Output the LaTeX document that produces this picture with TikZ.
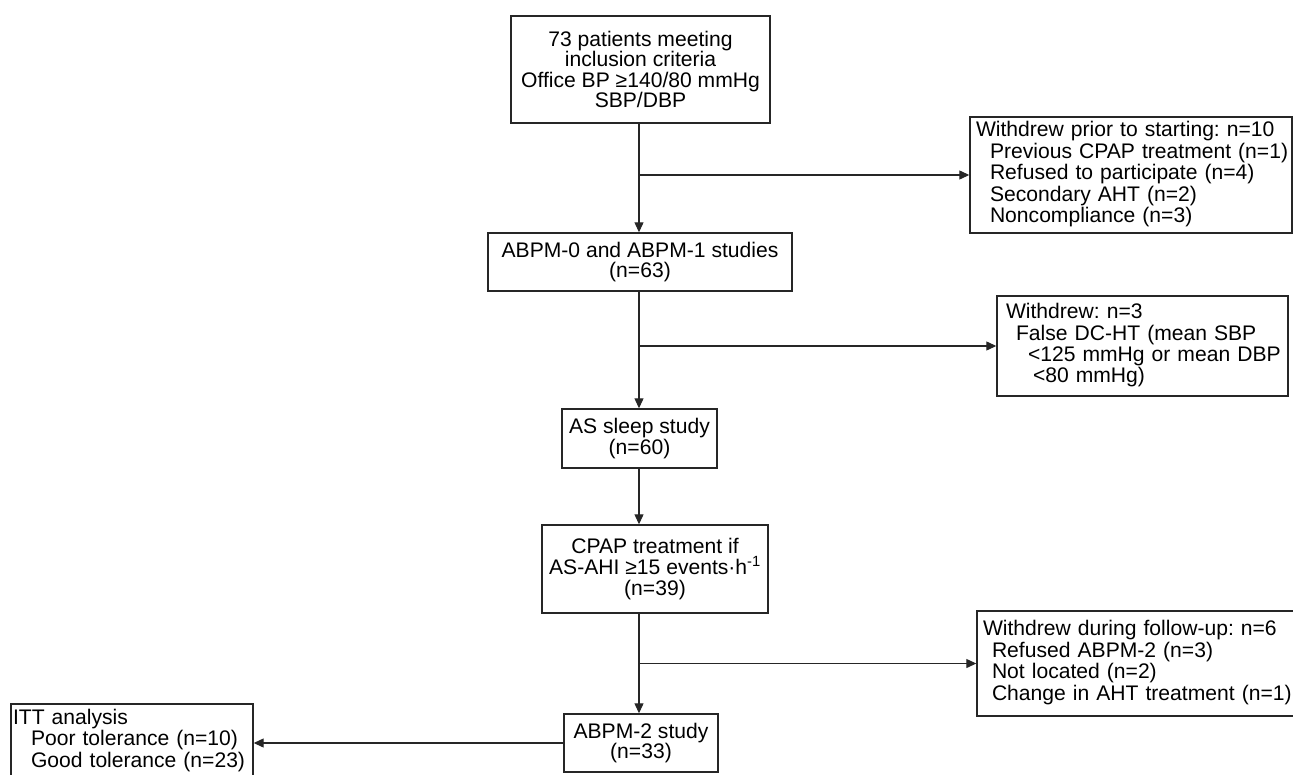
\documentclass[tikz,border=0pt]{standalone}
\usepackage{fontspec}
\setmainfont{Liberation Sans}
\usetikzlibrary{arrows.meta}
\frenchspacing

\newcommand{\indl}[1]{\hspace*{#1pt}}
\newcommand{\rowsof}[1]{\noindent\begin{tabular}{@{}l@{}}#1\end{tabular}}

\begin{document}
\begin{tikzpicture}[x=1pt,y=1pt,
    flowbox/.style={draw=black!85, line width=1.4pt, inner sep=0pt, align=center,
        font=\fontsize{21.1}{20.6}\selectfont},
    listbox/.style={flowbox, align=left},
    flow/.style={draw=black!85, line width=1.2pt, -{Triangle[length=10pt,width=9pt]}}]
            \clip (0,0) rectangle (1293,-774);
            \coordinate (col) at (639,0);
            % main column
            \node [flowbox, minimum width=259, minimum height=107] (start) at (640.5,-69.5)
                {73 patients meeting\\inclusion criteria\\Office BP ≥140/80 mmHg\\SBP/DBP};
            \node [flowbox, minimum width=304, minimum height=58] (abpm) at (640,-262)
                {ABPM-0 and ABPM-1 studies\\(n=63)};
            \node [flowbox, minimum width=155, minimum height=59] (sleep) at (639.5,-438.5)
                {AS sleep study\\(n=60)};
            \node [flowbox, minimum width=226, minimum height=88] (cpap) at (655,-569)
                {CPAP treatment if\\AS-AHI ≥15 events·h\textsuperscript{-1}\\(n=39)};
            \node [flowbox, minimum width=154, minimum height=58] (abpm2) at (641,-743)
                {ABPM-2 study\\(n=33)};
            % side boxes
            \node [listbox, text width=310, inner xsep=6, minimum height=116] (prior) at (1131,-175)
                {\rowsof{Withdrew prior to starting: n=10\\\indl{14}Previous CPAP treatment (n=1)\\\indl{14}Refused to participate (n=4)\\\indl{14}Secondary AHT (n=2)\\\indl{14}Noncompliance (n=3)}};
            \node [listbox, text width=273, inner xsep=9, minimum height=100] (falsedc) at (1142.5,-346)
                {\rowsof{Withdrew: n=3\\\indl{10}False DC-HT (mean SBP\\\indl{22}<125 mmHg or mean DBP\\\indl{27}<80 mmHg)}};
            \node [listbox, text width=306, inner xsep=6, minimum height=105] (follow) at (1136,-663.5)
                {\rowsof{Withdrew during follow-up: n=6\\\indl{9}Refused ABPM-2 (n=3)\\\indl{9}Not located (n=2)\\\indl{9}Change in AHT treatment (n=1)}};
            \node [listbox, text width=238, inner xsep=2, minimum height=74] (itt) at (132,-741)
                {\rowsof{ITT analysis\\\indl{18}Poor tolerance (n=10)\\\indl{18}Good tolerance (n=23)}};
            % connectors
            \draw [flow] (start.south -| col) -- (abpm.north -| col);
            \draw [flow] (abpm.south -| col) -- (sleep.north -| col);
            \draw [flow] (sleep.south -| col) -- (cpap.north -| col);
            \draw [flow] (cpap.south -| col) -- (abpm2.north -| col);
            \draw [flow] (col |- prior.west) -- (prior.west);
            \draw [flow] (col |- falsedc.west) -- (falsedc.west);
            \draw [flow] (col |- follow.west) -- (follow.west);
            \draw [flow] (abpm2.west) -- (itt.east |- abpm2.west);
        \end{tikzpicture}
\end{document}
